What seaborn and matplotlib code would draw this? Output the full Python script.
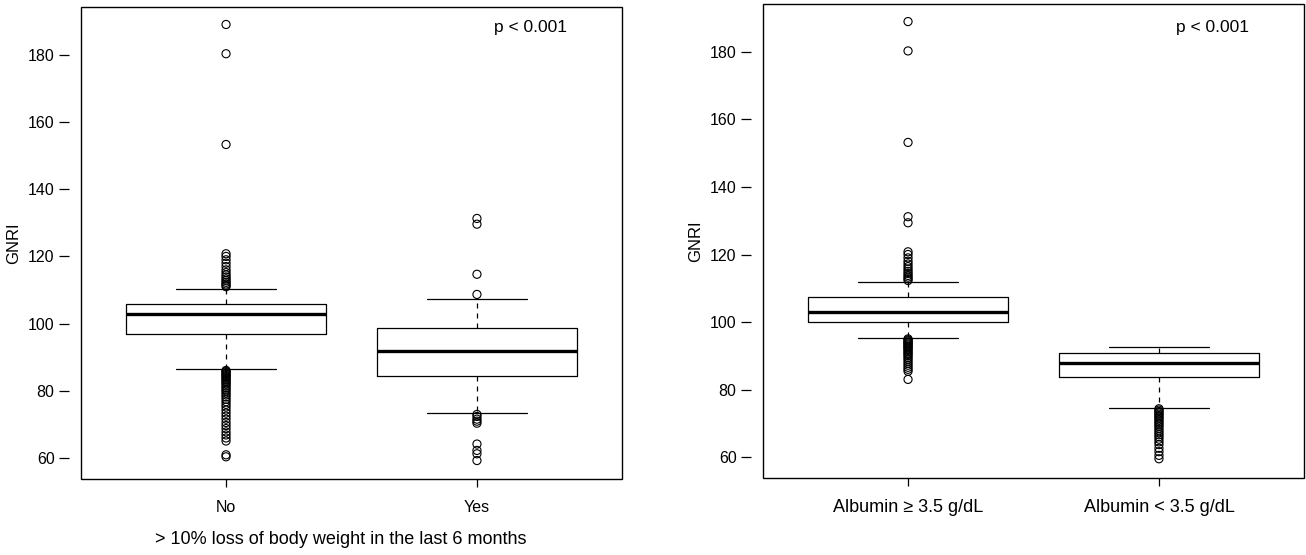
import matplotlib.pyplot as plt
import seaborn as sns
from matplotlib.patches import Rectangle

# categories
groups_left = ["No", "Yes"]
groups_right = ["Albumin \u2265 3.5 g/dL", "Albumin < 3.5 g/dL"]

# box summaries: lower whisker, Q1, median, Q3, upper whisker
no_stats = [86.4, 96.9, 103.0, 105.8, 110.3]
yes_stats = [73.3, 84.3, 92.0, 98.8, 107.3]
alb_hi_stats = [95.4, 100.0, 103.0, 107.3, 111.9]
alb_lo_stats = [74.5, 83.6, 88.0, 90.9, 92.5]

# outliers
no_out = [189.0, 180.3, 153.3, 120.8, 120.0, 119.0, 118.0, 117.0, 116.0, 115.2,
          114.5, 113.9, 113.3, 112.8, 112.3, 111.8, 111.4, 111.0,
          86.1, 85.8, 85.5, 85.2, 84.9, 84.6, 84.3, 84.0, 83.6, 83.2, 82.8,
          82.4, 82.0, 81.5, 81.0, 80.5, 80.0, 79.4, 78.8, 78.2, 77.5, 76.8,
          76.0, 75.2, 74.3, 73.4, 72.5, 71.6, 70.6, 69.7, 68.8, 67.8, 66.9,
          66.0, 65.1, 61.0, 60.4]
yes_out = [131.3, 129.6, 114.7, 108.7, 73.0, 72.4, 71.6, 71.0, 70.4,
           64.2, 62.3, 61.3, 59.3]
alb_hi_out = [189.0, 180.3, 153.2, 131.2, 129.4, 120.8, 120.0, 119.0, 118.0,
              117.2, 116.4, 115.7, 115.0, 114.4, 113.8, 113.3, 112.8, 112.3,
              95.0, 94.7, 94.4, 94.1, 93.8, 93.5, 93.2, 92.9, 92.6, 92.3, 92.0,
              91.6, 91.2, 90.8, 90.4, 90.0, 89.5, 89.0, 88.4, 87.8, 87.2, 86.6,
              86.0, 85.4, 83.0]
alb_lo_out = [74.3, 73.9, 73.5, 73.1, 72.7, 72.3, 71.9, 71.5, 71.0, 70.5, 70.0,
              69.5, 69.0, 68.4, 67.8, 67.2, 66.6, 66.0, 65.3, 64.5, 63.7, 62.6,
              61.6, 60.5, 59.5]

y_ticks = [60, 80, 100, 120, 140, 160, 180]

sns.set_style("ticks")
plt.rcParams["font.family"] = ["Liberation Sans", "DejaVu Sans"]
plt.rcParams["font.size"] = 12
plt.rcParams["text.color"] = "black"
plt.rcParams["axes.labelcolor"] = "black"


def make_stats(s):
    return {"whislo": s[0], "q1": s[1], "med": s[2], "q3": s[3], "whishi": s[4]}


def draw_panel(ax, labels, stats, outs, xtick_size, p_y, xlabel=None):
    ax.bxp([make_stats(s) for s in stats], positions=[0, 1], widths=0.8,
           showfliers=False, capwidths=0.4,
           boxprops=dict(color="black", linewidth=0.9),
           medianprops=dict(color="black", linewidth=2.4),
           whiskerprops=dict(color="black", linewidth=0.9, linestyle=(0, (4, 4))),
           capprops=dict(color="black", linewidth=0.9))
    for pos, vals in enumerate(outs):
        sns.scatterplot(x=[pos] * len(vals), y=vals, ax=ax, marker="o", s=34,
                        facecolor="none", edgecolor="black", linewidth=0.8,
                        legend=False, zorder=3)
    ax.set_xlim(-0.578, 1.578)
    ax.set_ylim(53.8, 194.2)
    ax.set_yticks(y_ticks)
    ax.set_xticks([0, 1])
    ax.set_xticklabels(labels)
    ax.set_ylabel("GNRI", fontsize=12)
    ax.yaxis.set_label_coords(-0.111, 0.5)
    if xlabel:
        ax.set_xlabel(xlabel, fontsize=13)
        ax.xaxis.set_label_coords(0.48, -0.11)
    else:
        ax.set_xlabel("")
    ax.tick_params(axis="y", direction="out", length=7, width=0.9, pad=3,
                   colors="black", labelsize=11.5)
    ax.tick_params(axis="x", direction="out", length=6, width=0.9, pad=9,
                   colors="black", labelsize=xtick_size)
    ax.spines["left"].set_position(("outward", 9))
    for sp in ax.spines.values():
        sp.set_visible(False)
    ax.add_patch(Rectangle((0, 0), 1, 1, transform=ax.transAxes, fill=False,
                           edgecolor="black", linewidth=1.0, clip_on=False))
    ax.text(0.83, p_y, "p < 0.001", transform=ax.transAxes,
            ha="center", va="center", fontsize=12.5)


fig = plt.figure(figsize=(13.06, 5.55), dpi=100)
ax1 = fig.add_axes([81 / 1306, 76 / 555, 541 / 1306, 472 / 555])
ax2 = fig.add_axes([763 / 1306, 77 / 555, 541 / 1306, 474 / 555])

draw_panel(ax1, groups_left, [no_stats, yes_stats], [no_out, yes_out], 11.5, 0.957,
           "> 10% loss of body weight in the last 6 months")
draw_panel(ax2, groups_right, [alb_hi_stats, alb_lo_stats], [alb_hi_out, alb_lo_out],
           13, 0.95)

fig.savefig("out.png", dpi=100)
